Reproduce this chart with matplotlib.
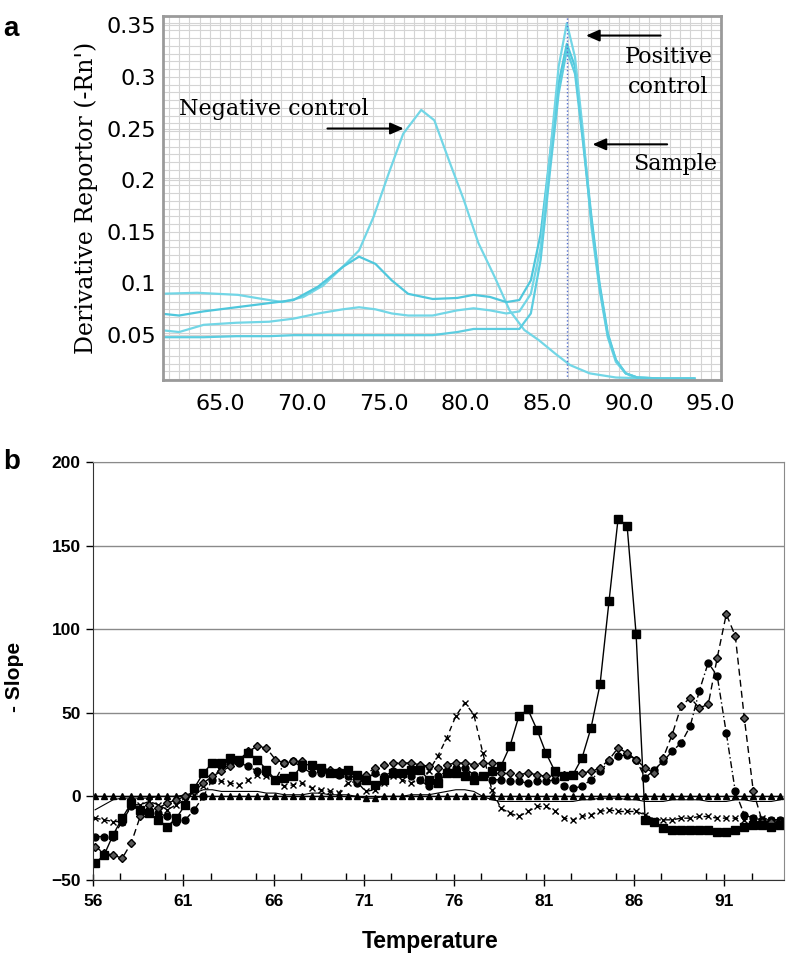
import numpy as np
import matplotlib.pyplot as plt
from matplotlib.ticker import MultipleLocator

# ---------- panel a: melt curves (derivative reporter) ----------
neg_t = [61.3, 63.6, 66.1, 67.6, 68.8, 70.1, 71.3, 72.5, 73.5, 74.4, 75.3, 76.2, 77.3,
         78.1, 79.0, 79.9, 80.8, 81.8, 82.7, 83.6, 84.5, 85.5, 86.4, 87.6, 89.2, 91.3, 93.9]
neg_v = [0.090, 0.091, 0.089, 0.085, 0.082, 0.087, 0.098, 0.116, 0.132, 0.165, 0.206, 0.245, 0.268,
         0.258, 0.219, 0.181, 0.139, 0.106, 0.074, 0.055, 0.045, 0.032, 0.021, 0.013, 0.009, 0.008, 0.008]

peak_t = [61.3, 62.5, 64.0, 66.0, 68.0, 69.5, 71.0, 72.5, 73.5, 74.5, 75.5, 76.5, 78.0, 79.5,
          80.5, 81.5, 82.5, 83.3, 84.0, 84.6, 85.2, 85.7, 86.2, 86.7, 87.2, 87.7, 88.2, 88.7,
          89.2, 89.8, 90.5, 92.0, 94.0]
sample1_v = [0.071, 0.069, 0.073, 0.077, 0.081, 0.084, 0.097, 0.116, 0.126, 0.119, 0.103, 0.090, 0.085, 0.086,
             0.089, 0.087, 0.082, 0.084, 0.103, 0.148, 0.229, 0.294, 0.332, 0.310, 0.239, 0.165, 0.100, 0.052,
             0.026, 0.013, 0.009, 0.008, 0.008]
positive_v = [0.055, 0.053, 0.060, 0.062, 0.063, 0.066, 0.071, 0.075, 0.077, 0.075, 0.071, 0.069, 0.069, 0.074,
              0.076, 0.074, 0.071, 0.073, 0.090, 0.135, 0.229, 0.310, 0.352, 0.319, 0.245, 0.155, 0.094, 0.048,
              0.024, 0.013, 0.009, 0.008, 0.008]
sample2_v = [0.048, 0.048, 0.048, 0.049, 0.049, 0.050, 0.050, 0.050, 0.050, 0.050, 0.050, 0.050, 0.050, 0.053,
             0.056, 0.056, 0.056, 0.056, 0.071, 0.123, 0.213, 0.284, 0.326, 0.303, 0.235, 0.161, 0.097, 0.050,
             0.026, 0.013, 0.009, 0.008, 0.008]
tm_line = 86.2

# ---------- panel b: -slope vs temperature ----------
temps = np.arange(56.1, 94.15, 0.5)

sq = [-40, -35, -23, -13, -4, -8, -10, -14, -18, -13, -5,
      5, 14, 20, 20, 23, 22, 26, 22, 16, 10, 11,
      12, 19, 19, 17, 14, 14, 16, 13, 10, 7, 10,
      14, 14, 16, 16, 10, 8, 14, 14, 12, 10, 12,
      15, 18, 30, 48, 52, 40, 26, 15, 12, 13, 23,
      41, 67, 117, 166, 162, 97, -14, -15, -19, -20, -20,
      -20, -20, -20, -21, -21, -20, -18, -17, -17, -18, -17]
tri = [0, 0, 0, 0, 0, 0, 0, 0, 0, 0, 0,
       0, 0, 0, 0, 0, 0, 0, 0, 0, 0, 0,
       0, 0, 0, 0, 0, 0, 0, 0, -1, -1, 0,
       0, 0, 0, 0, 0, 0, 0, 0, 0, 0, 0,
       0, 0, 0, 0, 0, 0, 0, 0, 0, 0, 0,
       0, 0, 0, 0, 0, 0, 0, 0, 0, 0, 0,
       0, 0, 0, 0, 0, 0, 0, 0, 0, 0, 0]
xx = [-13, -14, -15, -15, -5, -5, -3, -5, -8, -5, -2,
      3, 6, 10, 9, 8, 7, 10, 13, 12, 9, 6,
      7, 8, 5, 4, 3, 2, 8, 9, 3, 4, 8,
      12, 10, 8, 10, 15, 24, 35, 48, 56, 49, 26,
      4, -7, -10, -12, -9, -6, -6, -9, -13, -14, -12,
      -11, -9, -8, -9, -9, -9, -11, -14, -14, -14, -13,
      -13, -12, -12, -13, -13, -13, -14, -13, -13, -14, -14]
ci = [-24, -24, -24, -15, -6, -8, -8, -10, -12, -15, -14,
      -8, 0, 10, 18, 20, 20, 18, 15, 14, 10, 20,
      21, 17, 14, 14, 14, 13, 12, 8, 10, 14, 12,
      15, 14, 12, 10, 6, 12, 15, 17, 17, 13, 12,
      10, 10, 9, 9, 8, 9, 9, 10, 6, 5, 6,
      10, 15, 21, 24, 25, 22, 11, 16, 21, 27, 32,
      42, 63, 80, 72, 38, 3, -11, -13, -14, -14, -14]
dm = [-30, -34, -35, -37, -28, -12, -5, -7, -4, -2, 0,
      3, 8, 12, 15, 18, 22, 27, 30, 29, 22, 20,
      21, 21, 18, 17, 16, 15, 14, 10, 13, 17, 19,
      20, 20, 20, 19, 18, 17, 19, 20, 20, 19, 20,
      20, 14, 14, 13, 14, 13, 12, 13, 13, 13, 14,
      15, 17, 22, 29, 26, 22, 17, 14, 23, 37, 54,
      59, 53, 55, 83, 109, 96, 47, 3, -15, -15, -16]
ln = [-8, -5, -2, -1, -1, -1, -1, 0, 0, 0, 1,
      2, 4, 4, 3, 3, 3, 3, 3, 2, 2, 1,
      1, 1, 2, 2, 1, 1, 1, 0, 0, 0, 0,
      0, 0, 1, 1, 1, 2, 3, 4, 4, 3, 0,
      -2, -3, -3, -3, -3, -3, -3, -3, -3, -3, -2,
      -2, -1, -1, -1, -2, -2, -3, -3, -3, -2, -2,
      -2, -2, -3, -3, -3, -2, -2, -3, -3, -3, -2]

fig = plt.figure(figsize=(7.88, 9.55), dpi=100)

# ---------------- panel a ----------------
ax1 = fig.add_axes([0.2065, 0.602, 0.708, 0.381])
cyan = '#72d6e6'
ax1.plot(neg_t, neg_v, color=cyan, lw=1.6)
ax1.plot(peak_t, sample1_v, color='#4fc7dc', lw=1.6)
ax1.plot(peak_t, positive_v, color=cyan, lw=1.6)
ax1.plot(peak_t, sample2_v, color='#5ccde0', lw=1.6)
ax1.axvline(tm_line, color='#5470d0', lw=1, ls=':')

ax1.set_xlim(61.5, 95.6)
ax1.set_ylim(0.0065, 0.3587)
ax1.set_xticks(np.arange(65, 96, 5))
ax1.set_yticks(np.arange(0.05, 0.36, 0.05))
ax1.set_xticklabels(['65.0', '70.0', '75.0', '80.0', '85.0', '90.0', '95.0'])
ax1.set_yticklabels(['0.05', '0.1', '0.15', '0.2', '0.25', '0.3', '0.35'])
ax1.xaxis.set_minor_locator(MultipleLocator(0.625))
ax1.yaxis.set_minor_locator(MultipleLocator(0.0075))
ax1.grid(which='both', color='#d4d4d4', lw=0.8)
ax1.set_axisbelow(True)
ax1.tick_params(which='both', length=0)
ax1.tick_params(axis='x', pad=10, labelsize=16)
ax1.tick_params(axis='y', pad=5, labelsize=16)
for lab in ax1.get_xticklabels() + ax1.get_yticklabels():
    lab.set_family('DejaVu Sans')
for s in ax1.spines.values():
    s.set_color('#9a9a9a')
    s.set_linewidth(2)
ax1.set_ylabel("Derivative Reportor (-Rn')", family='DejaVu Serif', fontsize=17, labelpad=6)

serif = dict(family='DejaVu Serif', fontsize=16)
ax1.text(62.5, 0.2686, 'Negative control', va='center', ha='left', **serif)
ax1.text(92.4, 0.305, 'Positive\ncontrol', va='center', ha='center', linespacing=1.45, **serif)
ax1.text(92.8, 0.216, 'Sample', va='center', ha='center', **serif)
arrow = dict(arrowstyle='-|>,head_length=0.8,head_width=0.35', color='black', lw=1.5)
ax1.annotate('', xy=(76.4, 0.25), xytext=(71.4, 0.25), arrowprops=arrow)
ax1.annotate('', xy=(87.2, 0.34), xytext=(92.1, 0.34), arrowprops=arrow)
ax1.annotate('', xy=(87.6, 0.2347), xytext=(92.5, 0.2347), arrowprops=arrow)

fig.text(0.004, 0.983, 'a', fontsize=20, fontweight='bold', va='top', family='Liberation Sans')

# ---------------- panel b ----------------
ax2 = fig.add_axes([0.1184, 0.0785, 0.8765, 0.4377])
ax2.plot(temps, ln, color='black', lw=0.8)
ax2.plot(temps, tri, color='black', lw=1, marker='^', ms=4)
ax2.plot(temps, xx, color='black', lw=1, ls=(0, (4, 3)), marker='x', ms=5, mew=1)
ax2.plot(temps, ci, color='black', lw=1, ls=(0, (5, 2, 1, 2)), marker='o', ms=5)
ax2.plot(temps, dm, color='black', lw=1, ls=(0, (5, 3)), marker='D', ms=4.5,
         mfc='0.35', mec='black')
ax2.plot(temps, sq, color='black', lw=1, marker='s', ms=5.5)

ax2.set_xlim(56, 94.3)
ax2.set_ylim(-50, 200)
ax2.set_yticks([-50, 0, 50, 100, 150, 200])
ax2.set_xticks(np.arange(56, 92, 5))
ax2.xaxis.set_minor_locator(MultipleLocator(2.5))
ax2.yaxis.grid(True, color='#8a8a8a', lw=1)
ax2.set_axisbelow(True)
ax2.tick_params(axis='x', which='major', direction='inout', length=8, width=1, pad=6)
ax2.tick_params(axis='x', which='minor', direction='in', length=5, width=1)
ax2.tick_params(axis='y', direction='out', length=5, width=1, pad=4)
for lab in ax2.get_xticklabels() + ax2.get_yticklabels():
    lab.set_family('Liberation Sans')
    lab.set_fontweight('bold')
    lab.set_fontsize(12.5)
ax2.spines['left'].set_color('#333333')
ax2.spines['bottom'].set_color('#333333')
ax2.spines['top'].set_color('#8a8a8a')
ax2.spines['right'].set_color('#8a8a8a')
ax2.set_xlabel('Temperature', family='Liberation Sans', fontweight='bold', fontsize=16.5)
ax2.xaxis.set_label_coords(0.4875, -0.12)
ax2.set_ylabel('- Slope', family='Liberation Sans', fontweight='bold', fontsize=15)
ax2.yaxis.set_label_coords(-0.1, 0.486)

fig.text(0.004, 0.53, 'b', fontsize=20, fontweight='bold', va='top', family='Liberation Sans')

fig.savefig('out.png', dpi=100)
